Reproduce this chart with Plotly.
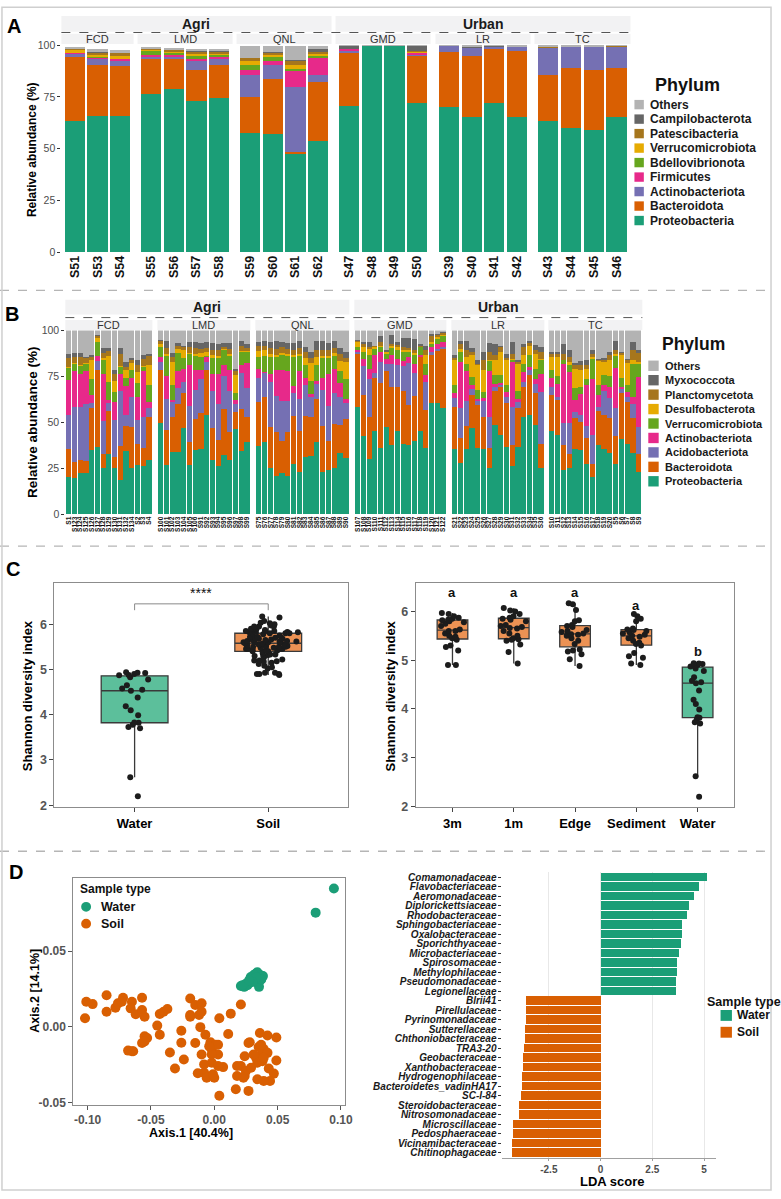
import plotly.graph_objects as go

W, H = 781, 1199
FONT = "Liberation Sans, Arial, Helvetica, sans-serif"


def fx(px):
    return px / W


def fy(py):
    return 1 - py / H


# ======================= DATA =======================
# ---- Panel A : water samples, relative abundance (%) ----
phyla_A = ["Proteobacteria", "Bacteroidota", "Actinobacteriota", "Firmicutes",
           "Bdellovibrionota", "Verrucomicrobiota", "Patescibacteria",
           "Campilobacterota", "Others"]
colors_A = ["#1b9e77", "#d95f02", "#7570b3", "#e7298a", "#66a61e",
            "#e6ab02", "#a6761d", "#666666", "#b3b3b3"]
sites = ["FCD", "LMD", "QNL", "GMD", "LR", "TC"]
land_use = ["Agri", "Urban"]
samples_A = [["S51", "S53", "S54"],
             ["S55", "S56", "S57", "S58"],
             ["S59", "S60", "S61", "S62"],
             ["S47", "S48", "S49", "S50"],
             ["S39", "S40", "S41", "S42"],
             ["S43", "S44", "S45", "S46"]]
A_proteobacteria = [63.6, 65.6, 65.9, 76.2, 79.0, 73.2, 74.3, 57.8, 57.3, 47.6, 53.7,
                    70.6, 99.7, 99.7, 72.2, 70.3, 65.1, 72.2, 65.1, 63.5, 60.0, 59.2, 65.1]
A_bacteroidota = [30.5, 24.6, 23.9, 17.1, 14.3, 14.9, 15.9, 17.3, 26.5, 1.0, 28.5,
                  25.6, 0.1, 0.2, 22.7, 26.5, 29.8, 25.9, 31.9, 22.2, 28.9, 28.6, 23.8]
A_actinobacteriota = [2.0, 3.1, 2.9, 1.3, 1.3, 4.4, 3.1, 10.3, 6.4, 31.2, 3.5,
                      1.1, 0.0, 0.0, 0.3, 2.8, 4.0, 1.4, 2.5, 13.2, 10.6, 11.7, 10.5]
A_firmicutes = [0.2, 0.8, 0.6, 0.6, 0.6, 0.8, 0.8, 2.4, 2.0, 8.0, 8.4,
                0.8, 0.0, 0.0, 1.3, 0.0, 0.0, 0.0, 0.0, 0.0, 0.0, 0.0, 0.0]
A_bdellovibrionota = [0.1, 0.2, 0.2, 2.1, 1.3, 1.3, 1.1, 2.7, 1.9, 0.8, 0.5,
                      0.0, 0.0, 0.0, 0.1, 0.0, 0.0, 0.0, 0.0, 0.0, 0.0, 0.0, 0.0]
A_verrucomicrobiota = [1.5, 0.9, 1.1, 0.5, 0.6, 1.1, 0.8, 2.0, 1.1, 1.6, 1.4,
                       0.1, 0.0, 0.0, 0.4, 0.0, 0.0, 0.0, 0.0, 0.0, 0.0, 0.0, 0.0]
A_patescibacteria = [0.2, 1.3, 1.6, 0.3, 0.6, 1.1, 0.8, 1.3, 1.3, 2.3, 0.8,
                     0.1, 0.0, 0.0, 0.2, 0.0, 0.0, 0.0, 0.0, 0.3, 0.0, 0.0, 0.2]
A_campilobacterota = [0.0, 0.1, 0.1, 0.3, 0.3, 0.2, 0.5, 0.2, 0.2, 0.3, 1.3,
                      1.4, 0.0, 0.0, 2.5, 0.0, 0.6, 0.1, 0.0, 0.0, 0.0, 0.0, 0.0]
A_others = [0.6, 1.5, 1.5, 0.5, 0.5, 1.1, 0.8, 5.7, 3.0, 6.9, 1.6,
            0.1, 0.1, 0.1, 0.1, 0.1, 0.2, 0.1, 0.2, 0.4, 0.2, 0.2, 0.1]

# ---- Panel B : soil samples, relative abundance (%) ----
phyla_B = ["Proteobacteria", "Bacteroidota", "Acidobacteriota", "Actinobacteriota",
           "Verrucomicrobiota", "Desulfobacterota", "Planctomycetota",
           "Myxococcota", "Others"]
colors_B = ["#1b9e77", "#d95f02", "#7570b3", "#e7298a", "#66a61e",
            "#e6ab02", "#a6761d", "#666666", "#b3b3b3"]
samples_B = [["S1", "S123", "S124", "S125", "S126", "S127", "S128", "S129", "S130",
              "S131", "S132", "S134", "S2", "S3", "S4"],
             ["S100", "S101", "S102", "S103", "S104", "S105", "S106", "S91", "S92",
              "S93", "S94", "S95", "S96", "S97", "S98", "S99"],
             ["S75", "S76", "S77", "S78", "S79", "S80", "S81", "S82", "S83", "S84",
              "S85", "S86", "S87", "S88", "S89", "S90"],
             ["S107", "S108", "S109", "S110", "S111", "S112", "S113", "S114", "S115",
              "S116", "S117", "S118", "S119", "S120", "S121", "S122"],
             ["S21", "S22", "S23", "S24", "S25", "S26", "S27", "S28", "S29", "S30",
              "S31", "S32", "S33", "S34", "S35", "S36"],
             ["S10", "S11", "S12", "S13", "S14", "S15", "S16", "S17", "S18", "S19",
              "S20", "S5", "S6", "S7", "S8", "S9"]]
B_proteobacteria = [20.5, 19.6, 22.5, 22.3, 34.8, 36.8, 25.0, 33.0, 25.5, 18.8, 34.5, 25.0, 26.8, 26.4, 29.6,
                    49.6, 26.8, 34.2, 34.0, 46.8, 26.8, 35.0, 35.7, 54.1, 29.5, 26.1, 32.1, 29.8, 46.4, 34.5, 39.6,
                    37.1, 39.3, 25.4, 21.1, 22.5, 20.7, 27.3, 22.9, 31.1, 31.8, 39.1, 23.2, 24.1, 25.4, 33.6, 30.4,
                    58.6, 42.5, 30.3, 45.5, 36.2, 47.3, 38.0, 45.2, 38.5, 37.6, 39.8, 45.2, 36.2, 60.4, 60.8, 57.7,
                    35.8, 28.1, 35.7, 47.0, 36.2, 35.8, 25.1, 48.4, 43.4, 36.7, 26.3, 36.6, 52.7, 54.1, 48.7, 25.4,
                    45.5, 43.4, 24.0, 25.1, 35.3, 34.8, 27.6, 20.1, 38.0, 35.8, 33.5, 27.2, 41.2, 38.4, 33.5, 22.8]
B_bacteroidota = [15.2, 9.0, 7.1, 6.8, 22.9, 41.8, 7.7, 23.3, 5.8, 18.3, 13.4, 22.5, 11.6, 9.9, 23.1,
                  29.0, 18.9, 18.8, 25.8, 19.1, 12.5, 17.0, 19.7, 24.5, 17.3, 14.3, 25.2, 14.8, 9.5, 22.8, 13.3,
                  24.1, 24.7, 22.1, 23.5, 17.3, 24.3, 26.3, 22.5, 22.3, 21.2, 23.9, 24.7, 15.9, 23.7, 15.0, 21.4,
                  28.7, 22.4, 22.6, 28.7, 35.5, 30.5, 31.0, 24.2, 28.7, 21.9, 24.7, 40.3, 20.6, 26.0, 28.3, 32.3,
                  22.8, 13.5, 12.1, 17.9, 23.3, 17.4, 11.1, 18.8, 26.0, 23.7, 11.7, 21.5, 16.7, 21.5, 17.1, 13.0,
                  19.4, 18.8, 14.0, 7.5, 17.0, 15.4, 14.0, 7.5, 18.3, 18.3, 18.8, 15.3, 24.9, 22.9, 18.8, 9.8]
B_acidobacteriota = [18.4, 30.0, 29.0, 30.7, 2.7, 5.0, 18.2, 4.1, 19.8, 29.9, 6.2, 16.4, 12.7, 16.6, 5.0,
                     4.0, 16.8, 7.9, 8.8, 6.1, 19.6, 15.9, 18.0, 4.4, 20.2, 19.8, 17.7, 22.4, 3.9, 19.5, 16.0,
                     12.7, 12.8, 24.3, 20.0, 22.0, 16.6, 12.3, 17.3, 17.0, 10.9, 8.0, 20.0, 19.1, 17.0, 15.3, 8.6,
                     0.9, 15.7, 20.6, 2.7, 11.1, 4.1, 12.9, 11.6, 13.4, 22.8, 12.4, 0.0, 15.2, 1.8, 0.9, 0.9,
                     4.5, 16.1, 14.0, 3.2, 2.1, 8.4, 17.0, 2.2, 1.2, 3.6, 20.6, 3.2, 2.6, 2.7, 5.3, 28.3,
                     4.5, 1.8, 11.6, 17.0, 3.6, 3.9, 6.6, 15.8, 2.3, 12.9, 10.8, 15.6, 2.0, 2.7, 7.6, 14.7]
B_actinobacteriota = [18.8, 19.1, 17.8, 17.9, 4.4, 2.7, 25.2, 1.7, 9.8, 9.4, 15.5, 10.2, 12.5, 25.0, 3.2,
                      3.0, 13.0, 1.1, 9.1, 7.1, 22.3, 10.7, 5.2, 2.7, 9.1, 15.9, 6.4, 11.6, 2.5, 4.4, 13.4,
                      5.4, 0.5, 4.3, 14.0, 16.8, 16.4, 4.1, 15.0, 3.7, 1.6, 1.3, 6.0, 17.0, 13.2, 7.5, 2.5,
                      0.9, 4.0, 5.7, 9.8, 5.4, 2.7, 4.5, 3.6, 2.6, 3.5, 5.0, 0.9, 3.6, 2.7, 2.7, 2.6,
                      2.7, 25.1, 16.0, 2.2, 1.1, 1.5, 24.6, 1.7, 1.1, 2.7, 24.2, 1.4, 5.4, 1.8, 2.4, 9.8,
                      4.8, 7.1, 32.3, 27.8, 6.3, 11.1, 22.1, 30.4, 6.3, 3.3, 6.3, 21.5, 1.3, 2.3, 4.1, 27.4]
B_verrucomicrobiota = [6.7, 4.1, 4.5, 4.1, 8.6, 7.6, 7.8, 9.9, 5.7, 3.6, 4.5, 4.5, 8.0, 2.1, 9.6,
                       5.5, 10.4, 8.5, 9.8, 5.9, 6.1, 7.5, 6.8, 0.2, 8.9, 8.9, 7.9, 7.5, 3.6, 7.2, 6.1,
                       6.1, 8.8, 9.6, 6.8, 8.0, 8.1, 15.7, 8.6, 7.3, 6.8, 8.9, 11.1, 8.9, 6.8, 6.6, 10.5,
                       1.8, 3.9, 7.2, 3.3, 2.7, 2.7, 3.9, 4.5, 5.0, 2.4, 4.8, 4.5, 6.3, 1.8, 2.6, 3.6,
                       4.5, 5.4, 4.1, 4.4, 4.9, 3.6, 5.4, 4.5, 3.9, 3.6, 1.3, 4.3, 4.5, 6.3, 5.7, 7.2,
                       4.1, 4.2, 1.8, 3.6, 6.3, 4.2, 3.5, 10.8, 5.7, 5.3, 5.9, 6.8, 4.8, 4.3, 17.9, 7.2]
B_desulfobacterota = [0.5, 0.5, 0.5, 0.4, 10.5, 1.8, 1.0, 13.9, 5.7, 0.5, 4.5, 3.5, 6.0, 0.8, 10.9,
                      1.5, 1.1, 12.4, 2.2, 4.3, 0.7, 0.9, 2.1, 2.6, 1.5, 1.0, 0.7, 0.9, 10.0, 0.6, 0.6,
                      3.5, 3.4, 1.3, 1.1, 0.9, 0.9, 0.9, 0.7, 3.4, 9.8, 4.5, 1.0, 1.0, 1.4, 5.2, 9.3,
                      2.6, 2.4, 3.6, 0.9, 0.5, 0.9, 1.5, 1.8, 0.9, 0.9, 0.9, 0.3, 4.5, 0.8, 0.9, 0.4,
                      13.4, 1.8, 3.6, 12.0, 13.4, 11.6, 0.5, 8.1, 12.6, 13.9, 0.5, 14.9, 4.5, 5.0, 8.1, 0.8,
                      7.2, 10.2, 0.5, 1.8, 10.7, 8.9, 5.4, 0.9, 12.6, 7.2, 8.4, 0.9, 12.5, 11.8, 1.8, 0.9]
B_planctomycetota = [4.7, 3.1, 4.0, 2.6, 1.8, 1.3, 3.1, 2.7, 4.1, 6.6, 1.8, 1.8, 3.5, 3.7, 4.5,
                     1.5, 3.2, 2.8, 1.8, 1.7, 3.0, 3.2, 2.5, 2.0, 3.0, 3.5, 1.0, 3.0, 2.1, 2.5, 1.5,
                     2.6, 2.0, 3.5, 3.5, 3.5, 3.0, 3.0, 3.2, 3.6, 2.9, 3.8, 3.5, 3.5, 3.2, 3.8, 2.1,
                     0.9, 1.8, 0.9, 0.5, 2.1, 0.3, 0.9, 1.4, 1.8, 1.2, 1.5, 0.6, 2.7, 3.6, 1.3, 1.1,
                     1.2, 2.7, 3.6, 1.5, 0.9, 5.4, 4.5, 2.7, 2.7, 0.7, 2.7, 0.9, 4.5, 1.8, 2.3, 3.7,
                     1.8, 1.8, 3.1, 2.7, 2.2, 3.1, 2.2, 1.8, 0.5, 1.4, 2.7, 2.3, 0.9, 1.3, 5.4, 4.8]
B_myxococcota = [2.2, 2.6, 2.6, 1.0, 0.9, 0.5, 2.2, 1.6, 2.2, 3.6, 2.6, 0.9, 3.0, 2.1, 1.2,
                 0.8, 4.1, 1.8, 1.5, 0.5, 2.5, 3.6, 3.0, 3.3, 3.5, 3.0, 2.0, 3.0, 1.0, 3.0, 2.0,
                 2.0, 2.5, 3.0, 4.5, 2.5, 3.0, 3.6, 4.0, 2.6, 3.4, 5.0, 4.8, 3.7, 3.8, 3.5, 3.6,
                 0.4, 0.8, 3.0, 0.4, 3.6, 0.6, 4.8, 1.2, 4.8, 5.4, 6.2, 0.9, 2.7, 0.9, 0.5, 0.3,
                 1.5, 1.7, 5.3, 2.1, 1.8, 4.5, 5.0, 6.3, 0.9, 2.4, 6.2, 1.4, 1.8, 1.2, 2.5, 2.7,
                 0.9, 0.9, 5.4, 3.6, 1.0, 1.8, 2.3, 1.8, 0.9, 0.7, 1.8, 4.8, 0.9, 0.9, 4.8, 1.5]
B_others = [13.0, 12.0, 12.0, 14.2, 13.4, 2.5, 9.8, 9.8, 21.4, 9.3, 17.0, 15.2, 15.9, 13.4, 12.9,
            5.1, 5.7, 12.5, 7.0, 8.5, 6.5, 6.2, 7.0, 6.2, 7.0, 7.5, 7.0, 7.0, 21.0, 5.5, 7.5,
            6.5, 6.0, 6.5, 5.5, 6.5, 7.0, 6.8, 5.8, 9.0, 11.6, 5.5, 5.7, 6.8, 5.5, 9.5, 11.6,
            5.2, 6.5, 6.1, 8.2, 2.9, 10.9, 2.5, 6.5, 4.3, 4.3, 4.7, 7.3, 8.2, 2.0, 2.0, 1.1,
            13.6, 5.6, 5.6, 9.7, 16.3, 11.8, 6.8, 7.3, 8.2, 12.7, 6.5, 15.8, 7.3, 5.6, 7.9, 9.1,
            11.8, 11.8, 7.3, 10.9, 17.6, 16.8, 16.3, 10.9, 15.4, 15.1, 11.8, 5.6, 11.5, 15.4, 6.1, 10.9]

# ---- Panel C : Shannon diversity ----
habitats = ["3m", "1m", "Edge", "Sediment", "Water"]
shannon_3m = [4.90, 4.90, 5.20, 5.27, 5.30, 5.42, 5.45, 5.48, 5.50, 5.55, 5.60, 5.60,
              5.63, 5.70, 5.75, 5.78, 5.80, 5.82, 5.83, 5.85, 5.87, 5.90, 5.95, 5.97]
shannon_1m = [4.93, 5.17, 5.32, 5.40, 5.42, 5.43, 5.45, 5.50, 5.55, 5.60, 5.65, 5.66,
              5.68, 5.70, 5.72, 5.80, 5.83, 5.85, 5.87, 5.90, 5.95, 6.00, 6.02, 6.07]
shannon_edge = [4.88, 5.02, 5.12, 5.18, 5.20, 5.22, 5.33, 5.40, 5.45, 5.50, 5.52, 5.53,
                5.55, 5.58, 5.60, 5.62, 5.68, 5.70, 5.72, 5.80, 5.82, 6.03, 6.15, 6.17]
shannon_sediment = [4.90, 4.93, 5.05, 5.08, 5.15, 5.30, 5.33, 5.36, 5.40, 5.45, 5.48, 5.50,
                    5.52, 5.55, 5.57, 5.60, 5.62, 5.63, 5.65, 5.80, 5.85, 5.90, 5.95]
shannon_water = [2.20, 2.62, 3.70, 3.73, 3.78, 3.82, 3.83, 3.99, 4.10, 4.19, 4.38, 4.53,
                 4.55, 4.58, 4.65, 4.78, 4.83, 4.87, 4.88, 4.90, 4.92, 4.93, 4.94]
letters = ["a", "a", "a", "a", "b"]
letter_y = [6.38, 6.38, 6.38, 6.12, 5.17]

# ---- Panel D : PCoA ----
water_ax1 = [0.0944, 0.080, 0.021, 0.0236, 0.0249, 0.0275, 0.0301, 0.0327, 0.034, 0.0366, 0.0384, 0.0353,
             0.0353, 0.0314, 0.0288, 0.0262, 0.0223, 0.0314, 0.0345, 0.0371, 0.033, 0.0301, 0.0275]
water_ax2 = [0.0913, 0.0754, 0.027, 0.0264, 0.0285, 0.0296, 0.0318, 0.0351, 0.0361, 0.034, 0.0335, 0.0296,
             0.0264, 0.0307, 0.0329, 0.0275, 0.0275, 0.0344, 0.0318, 0.0312, 0.0325, 0.0296, 0.0307]
soil_ax1 = [-0.101, -0.096, -0.102, -0.085, -0.085, -0.078, -0.076, -0.072, -0.073, -0.065, -0.066, -0.062,
            -0.057, -0.057, -0.055, -0.045, -0.043, -0.043, -0.040, -0.037, -0.055, -0.053, -0.057, -0.055,
            -0.068, -0.064, -0.065, -0.035, -0.031, -0.024, -0.026, -0.026, -0.019, -0.015, -0.010, -0.019,
            -0.019, -0.012, -0.010, -0.011, -0.015, -0.007, -0.003, -0.002, 0.001, 0.003, 0.004, 0.013,
            0.021, 0.011, 0.003, -0.002, -0.008, -0.013, -0.006, 0.000, 0.007, 0.004, 0.017, 0.027,
            0.018, 0.021, 0.024, 0.025, 0.024, 0.027, 0.028, 0.036, 0.042, 0.049, 0.035, 0.039,
            0.037, 0.042, 0.033, 0.034, 0.038, 0.049, 0.043, 0.047, 0.044, 0.034, 0.039, 0.029,
            -0.001, -0.008, 0.003, -0.010, -0.002, 0.018, 0.023, 0.037, 0.039, 0.031, -0.004]
soil_ax2 = [0.0166, 0.0150, 0.0057, 0.0209, 0.0100, 0.0126, 0.0155, 0.0192, 0.0166, 0.0166, 0.0122, 0.0083,
            0.0192, 0.0111, 0.0067, 0.0008, -0.0052, 0.0085, 0.0100, 0.0118, -0.0063, -0.0074, -0.0107, -0.0096,
            -0.0157, -0.0161, -0.0161, -0.0170, -0.0275, -0.0216, -0.0026, -0.0105, 0.0187, 0.0144, 0.0155, 0.0078,
            0.0067, 0.0078, 0.0100, -0.0002, -0.0107, -0.0052, -0.0102, -0.0150, -0.0118, -0.0118, 0.0057, 0.0087,
            0.0148, -0.0048, -0.0183, -0.0237, -0.0303, -0.0307, -0.0336, -0.0336, -0.0266, -0.0455, -0.0412, -0.0423,
            -0.0325, -0.0259, -0.0325, -0.0292, -0.0194, -0.0107, -0.0102, -0.0041, -0.0057, -0.0070, -0.0133, -0.0146,
            -0.0183, -0.0172, -0.0205, -0.0237, -0.0227, -0.0222, -0.0275, -0.0309, -0.0357, -0.0346, -0.0357, -0.0270,
            -0.0314, -0.0248, -0.0259, -0.0183, -0.0183, -0.0259, -0.0336, -0.0118, -0.0205, -0.0183, -0.0129]

# ---- Panel D : LEfSe LDA scores ----
water_families = ["Comamonadaceae", "Flavobacteriaceae", "Aeromonadaceae", "Diplorickettsiaceae",
                  "Rhodobacteraceae", "Sphingobacteriaceae", "Oxalobacteraceae", "Sporichthyaceae",
                  "Microbacteriaceae", "Spirosomaceae", "Methylophilaceae", "Pseudomonadaceae",
                  "Legionellaceae"]
water_lda = [5.15, 4.74, 4.50, 4.27, 4.19, 3.95, 3.92, 3.91, 3.81, 3.71, 3.68, 3.65, 3.63]
soil_families = ["Blrii41", "Pirellulaceae", "Pyrinomonadaceae", "Sutterellaceae",
                 "Chthoniobacteraceae", "TRA3-20", "Geobacteraceae", "Xanthobacteraceae",
                 "Hydrogenophilaceae", "Bacteroidetes_vadinHA17", "SC-I-84", "Steroidobacteraceae",
                 "Nitrosomonadaceae", "Microscillaceae", "Pedosphaeraceae", "Vicinamibacteraceae",
                 "Chitinophagaceae"]
soil_lda = [-3.59, -3.62, -3.62, -3.64, -3.65, -3.72, -3.73, -3.77, -3.81, -3.81, -3.85, -3.93,
            -3.96, -4.24, -4.24, -4.29, -4.29]

GREEN, ORANGE = "#1b9e77", "#d95f02"

# ======================= FIGURE =======================
traces = []
layout = dict(width=W, height=H, margin=dict(l=0, r=0, t=0, b=0),
              paper_bgcolor="white", plot_bgcolor="white", showlegend=False,
              barmode="stack", boxmode="overlay", font=dict(family=FONT, color="#000"))
annotations = []
shapes = []


def ann(text, px, py, size, color="#000", bold=False, italic=False,
        xanchor="center", yanchor="middle", angle=0):
    annotations.append(dict(
        text=text, x=fx(px), y=fy(py), xref="paper", yref="paper", showarrow=False,
        xanchor=xanchor, yanchor=yanchor, textangle=angle,
        font=dict(family=FONT, size=size, color=color,
                  weight="bold" if bold else "normal",
                  style="italic" if italic else "normal")))


def rect(px0, py0, px1, py1, fill, line=None, lw=0):
    shapes.append(dict(type="rect", xref="paper", yref="paper", x0=fx(px0), x1=fx(px1),
                       y0=fy(py1), y1=fy(py0), fillcolor=fill,
                       line=dict(width=lw, color=line or fill), layer="below"))


def hline(px0, px1, py, color, width=1, dash="dash"):
    shapes.append(dict(type="line", xref="paper", yref="paper", x0=fx(px0), x1=fx(px1),
                       y0=fy(py), y1=fy(py), line=dict(color=color, width=width, dash=dash)))


def axname(n, letter):
    return letter if n == 1 else f"{letter}{n}"


def stacked_panel(samples, values, colors, facet_px, ytop, ybot, ynum, first_ax,
                  tick_size, ytick_size):
    yref = axname(ynum, "y")
    idx = 0
    for f, samp in enumerate(samples):
        n = len(samp)
        ax = first_ax + f
        xref = axname(ax, "x")
        for j, vals in enumerate(values):
            traces.append(go.Bar(x=samp, y=vals[idx:idx + n], width=0.9,
                                 marker=dict(color=colors[j], line=dict(width=0)),
                                 xaxis=xref, yaxis=yref, showlegend=False, hoverinfo="skip"))
        px0, px1 = facet_px[f]
        layout[axname(ax, "xaxis")] = dict(
            domain=[fx(px0), fx(px1)], anchor=yref, type="category",
            categoryorder="array", categoryarray=samp, range=[-0.6, n - 0.4],
            tickmode="array", tickvals=samp, ticktext=samp, tickangle=-90,
            tickfont=dict(family=FONT, size=tick_size, color="#111", weight="bold"),
            showline=False, showgrid=False, zeroline=False, ticks="", fixedrange=True)
        idx += n
    layout[axname(ynum, "yaxis")] = dict(
        domain=[fy(ybot), fy(ytop)], anchor=axname(first_ax, "x"), range=[0, 100],
        tickvals=[0, 25, 50, 75, 100], ticks="outside", ticklen=3, tickcolor="#333",
        tickfont=dict(family=FONT, size=ytick_size, color="#4d4d4d"),
        showline=False, showgrid=False, zeroline=False, fixedrange=True)


def strips(facet_px, top_py, dash_py, sub_py, top_size, sub_size):
    groups = [(land_use[0], facet_px[0][0], facet_px[2][1]),
              (land_use[1], facet_px[3][0], facet_px[5][1])]
    for name, a, b in groups:
        rect(a, top_py[0], b, top_py[1], "#f2f2f3")
        ann(f"<b>{name}</b>", (a + b) / 2, (top_py[0] + top_py[1]) / 2, top_size, "#1a1a1a")
    hline(facet_px[0][0], facet_px[5][1], dash_py, "#555555", 1, "dash")
    for name, (a, b) in zip(sites, facet_px):
        rect(a, sub_py[0], b, sub_py[1], "#f2f2f3")
        ann(name, (a + b) / 2, (sub_py[0] + sub_py[1]) / 2 + 0.5, sub_size, "#333333")


def phylum_legend(names, colors, title_px, title_py, title_size, sq_px, sq_size,
                  row0, step, text_px, text_size):
    ann("<b>Phylum</b>", title_px, title_py, title_size, "#111", xanchor="left")
    for i, (nm, col) in enumerate(zip(reversed(names), reversed(colors))):
        cy = row0 + i * step
        rect(sq_px, cy - sq_size / 2, sq_px + sq_size, cy + sq_size / 2, col)
        ann(f"<b>{nm}</b>", text_px, cy, text_size, "#1a1a1a", xanchor="left")


# ---------- Panel A ----------
facet_A = [(62, 135), (139, 235), (239, 335), (339, 435), (440, 536), (540, 637)]
values_A = [A_proteobacteria, A_bacteroidota, A_actinobacteriota, A_firmicutes,
            A_bdellovibrionota, A_verrucomicrobiota, A_patescibacteria,
            A_campilobacterota, A_others]
stacked_panel(samples_A, values_A, colors_A, facet_A, 39.5, 249, 1, 1, 12.5, 10.5)
strips(facet_A, (10, 26), 26.8, (28, 38.5), 14, 11)
phylum_legend(phyla_A, colors_A, 660, 80, 18, 641, 9.5, 99.7, 14.65, 655, 12)
ann("<b>Relative abundance (%)</b>", 33, 145, 12, angle=-90)

# ---------- Panel B ----------
facet_B = [(66, 154), (159, 253), (258, 353), (358, 451), (456, 550), (554, 649)]
values_B = [B_proteobacteria, B_bacteroidota, B_acidobacteriota, B_actinobacteriota,
            B_verrucomicrobiota, B_desulfobacterota, B_planctomycetota,
            B_myxococcota, B_others]
stacked_panel(samples_B, values_B, colors_B, facet_B, 328, 514, 2, 7, 6.5, 10.5)
strips(facet_B, (297, 312), 315, (317.5, 327.5), 14, 11)
phylum_legend(phyla_B, colors_B, 667, 342, 17.5, 655, 10.5, 363.7, 14.6, 670, 11)
ann("<b>Relative abundance (%)</b>", 33, 421, 13.5, angle=-90)

# ---------- Panel C ----------
FRAME = "#8c8c8c"
fill_water, fill_soil = "#5cbf9b", "#ec9254"
shannon_soil = shannon_3m + shannon_1m + shannon_edge + shannon_sediment
c_left_cats = ["Water", "Soil"]


def box(vals, cat, fill, xref, yref):
    return go.Box(y=vals, x=[cat] * len(vals), name=cat, width=0.5, fillcolor=fill,
                  line=dict(color="#3a3a3a", width=1.3), whiskerwidth=0,
                  boxpoints="all", jitter=0.9, pointpos=0,
                  marker=dict(color="#1c1c1c", size=6, line=dict(width=0)),
                  xaxis=xref, yaxis=yref, showlegend=False, hoverinfo="skip")


traces.append(box(shannon_water, "Water", fill_water, "x13", "y3"))
traces.append(box(shannon_soil, "Soil", fill_soil, "x13", "y3"))

groups_C = [shannon_3m, shannon_1m, shannon_edge, shannon_sediment, shannon_water]
for hab, vals in zip(habitats, groups_C):
    traces.append(box(vals, hab, fill_water if hab == "Water" else fill_soil, "x14", "y4"))

c_xaxis = dict(type="category", categoryorder="array", showline=True, mirror=True,
               linecolor=FRAME, linewidth=1, ticks="outside", ticklen=4, tickcolor="#444",
               tickfont=dict(family=FONT, size=13, color="#000", weight="bold"),
               showgrid=False, zeroline=False, fixedrange=True)
c_yaxis = dict(tickvals=[2, 3, 4, 5, 6], showline=True, mirror=True, linecolor=FRAME,
               linewidth=1, ticks="outside", ticklen=4, tickcolor="#444",
               tickfont=dict(family=FONT, size=12.5, color="#555", weight="bold"),
               showgrid=False, zeroline=False, fixedrange=True)
layout["xaxis13"] = dict(c_xaxis, domain=[fx(55), fx(352)], anchor="y3",
                         categoryarray=c_left_cats, range=[-0.6, 1.6])
layout["yaxis3"] = dict(c_yaxis, domain=[fy(810), fy(583)], anchor="x13", range=[1.956, 6.918])
layout["xaxis14"] = dict(c_xaxis, domain=[fx(420), fx(742)], anchor="y4",
                         categoryarray=habitats, range=[-0.6, 4.6])
layout["yaxis4"] = dict(c_yaxis, domain=[fy(810), fy(583)], anchor="x14", range=[1.985, 6.59])

ann("<b>Shannon diversity index</b>", 28, 697, 13, angle=-90)
ann("<b>Shannon diversity index</b>", 394, 697, 13, angle=-90)

# significance bracket (left)
iw, isoil = c_left_cats.index("Water"), c_left_cats.index("Soil")
for (x0, y0, x1, y1) in [(iw, 6.45, isoil, 6.45), (iw, 6.45, iw, 6.31), (isoil, 6.45, isoil, 6.31)]:
    shapes.append(dict(type="line", xref="x13", yref="y3", x0=x0, y0=y0, x1=x1, y1=y1,
                       line=dict(color="#8a8a8a", width=1)))
annotations.append(dict(text="****", x=(iw + isoil) / 2, y=6.47, xref="x13", yref="y3",
                        showarrow=False, yanchor="bottom",
                        font=dict(family=FONT, size=14, color="#111")))
for i, (lt, ly) in enumerate(zip(letters, letter_y)):
    annotations.append(dict(text=f"<b>{lt}</b>", x=i, y=ly, xref="x14", yref="y4",
                            showarrow=False, font=dict(family=FONT, size=13, color="#111")))

# ---------- Panel D : PCoA ----------
traces.append(go.Scatter(x=soil_ax1, y=soil_ax2, mode="markers", xaxis="x15", yaxis="y5",
                         marker=dict(color=ORANGE, size=10, line=dict(width=0)),
                         showlegend=False, hoverinfo="skip"))
traces.append(go.Scatter(x=water_ax1, y=water_ax2, mode="markers", xaxis="x15", yaxis="y5",
                         marker=dict(color=GREEN, size=10, line=dict(width=0)),
                         showlegend=False, hoverinfo="skip"))
d_ax = dict(showline=True, mirror=True, linecolor=FRAME, linewidth=1, ticks="outside",
            ticklen=4, tickcolor="#555",
            tickfont=dict(family=FONT, size=12, color="#555", weight="bold"),
            showgrid=False, zeroline=False, fixedrange=True)
layout["xaxis15"] = dict(d_ax, domain=[fx(74), fx(349)], anchor="y5", range=[-0.1113, 0.1035],
                         tickvals=[-0.1, -0.05, 0, 0.05, 0.1],
                         ticktext=["-0.10", "-0.05", "0.00", "0.05", "0.10"])
layout["yaxis5"] = dict(d_ax, domain=[fy(1111), fy(882)], anchor="x15", range=[-0.0516, 0.098],
                        tickvals=[-0.05, 0, 0.05], ticktext=["-0.05", "0.00", "0.05"])
ann("<b>Axis.1 [40.4%]</b>", 193, 1139, 12.5)
ann("<b>Axis.2 [14.1%]</b>", 36, 996, 12.5, angle=-90)
# legend inside scatter
ann("<b>Sample type</b>", 79, 893, 12, "#111", xanchor="left")
for lbl, col, cy in [("Water", GREEN, 910.7), ("Soil", ORANGE, 927.7)]:
    shapes.append(dict(type="circle", xref="paper", yref="paper", x0=fx(82), x1=fx(92),
                       y0=fy(cy + 5), y1=fy(cy - 5), fillcolor=col, line=dict(width=0)))
    ann(f"<b>{lbl}</b>", 100, cy, 12.5, "#111", xanchor="left")

# ---------- Panel D : LDA ----------
families = water_families + soil_families
traces.append(go.Bar(y=water_families, x=water_lda, orientation="h", width=0.9,
                     marker=dict(color=GREEN, line=dict(width=0)), xaxis="x16", yaxis="y6",
                     showlegend=False, hoverinfo="skip"))
traces.append(go.Bar(y=soil_families, x=soil_lda, orientation="h", width=0.9,
                     marker=dict(color=ORANGE, line=dict(width=0)), xaxis="x16", yaxis="y6",
                     showlegend=False, hoverinfo="skip"))
layout["xaxis16"] = dict(domain=[fx(507.7), fx(723)], anchor="y6", range=[-4.74, 5.56],
                         tickvals=[-2.5, 0, 2.5, 5], ticktext=["-2.5", "0", "2.5", "5"],
                         showgrid=True, gridcolor="#e8e8e8", gridwidth=1, zeroline=False,
                         showline=True, linecolor="#a0a0a0", ticks="outside", ticklen=2,
                         tickcolor="#a0a0a0",
                         tickfont=dict(family=FONT, size=10, color="#4d4d4d", weight="bold"),
                         fixedrange=True)
layout["yaxis6"] = dict(domain=[fy(1165), fy(875)], anchor="x16", type="category",
                        categoryorder="array", categoryarray=families,
                        range=[len(families) - 0.4, -0.6], tickmode="array", tickvals=families,
                        ticks="outside", ticklen=3, tickcolor="#333",
                        tickfont=dict(family=FONT, size=10, color="#1a1a1a", weight="bold",
                                      style="italic"),
                        showgrid=False, zeroline=False, showline=False, fixedrange=True)
ann("<b>LDA score</b>", 619, 1188.5, 13)
ann("<b>Sample type</b>", 712, 1007, 12.5, "#111", xanchor="left")
for lbl, col, cy in [("Water", GREEN, 1020.5), ("Soil", ORANGE, 1037.5)]:
    rect(728, cy - 5.5, 739.5, cy + 5.5, col)
    ann(f"<b>{lbl}</b>", 743, cy, 12, "#111", xanchor="left")

# ---------- panel letters, separators, border ----------
for lt, px, py in [("A", 14.5, 20), ("B", 12.5, 311.5), ("C", 13.5, 569), ("D", 16, 875)]:
    ann(f"<b>{lt}</b>", px, py, 20, "#000")
for py in [287.5, 546, 854.5]:
    hline(0, W, py, "#b5b5b5", 1.3, "dash")
shapes.append(dict(type="rect", xref="paper", yref="paper", x0=fx(2), x1=fx(779),
                   y0=fy(1197), y1=fy(1.2), line=dict(color="#cfcfcf", width=1.5),
                   fillcolor="rgba(0,0,0,0)"))

layout["annotations"] = annotations
layout["shapes"] = shapes
fig = go.Figure(data=traces, layout=layout)
fig.write_html("out.html")
